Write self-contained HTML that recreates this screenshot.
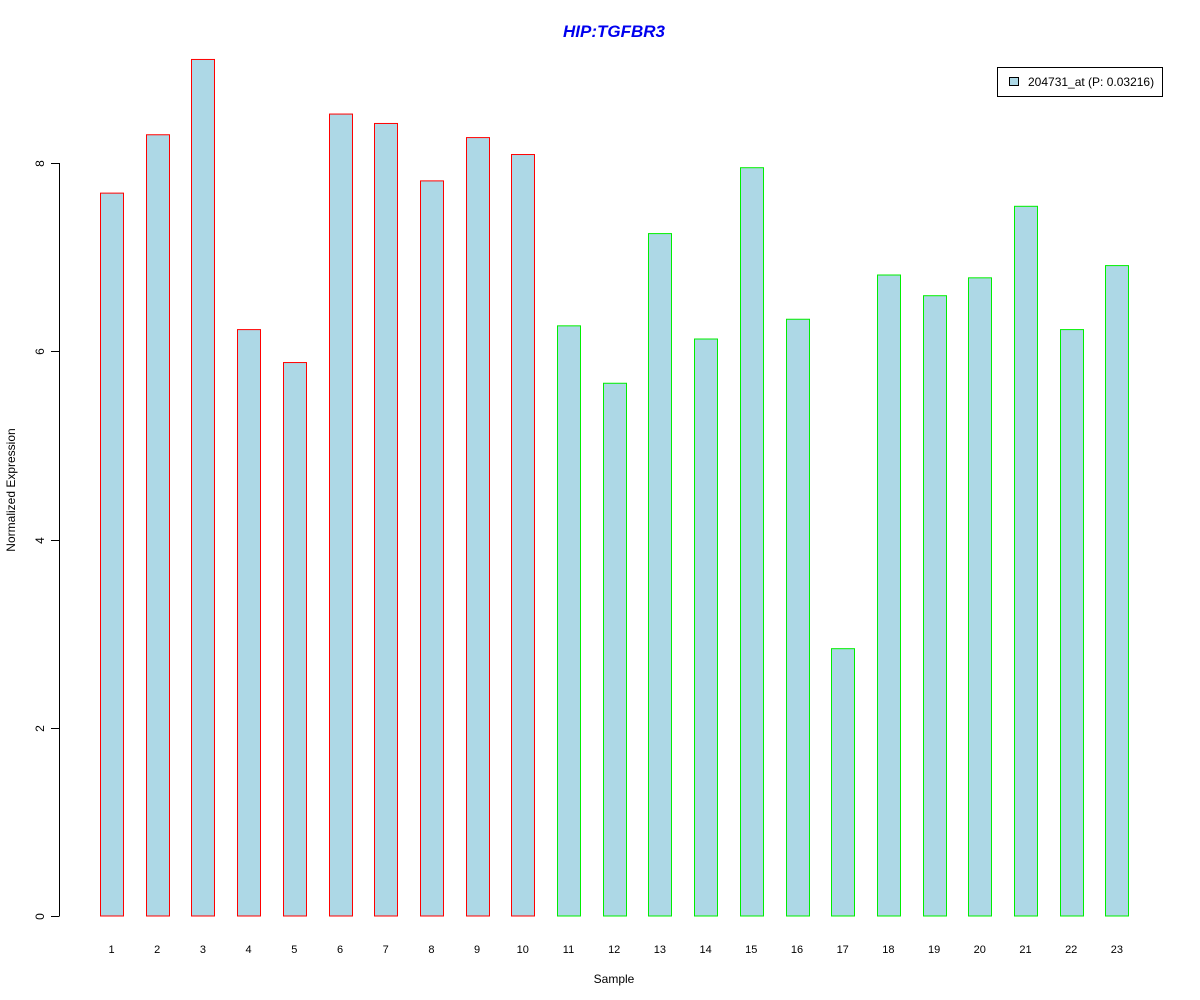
<!DOCTYPE html>
<html><head><meta charset="utf-8"><style>
html,body{margin:0;padding:0;background:#fff;}
svg{display:block;font-family:"Liberation Sans",Arial,sans-serif;}
</style></head><body>
<svg id="chart" width="1200" height="1000" viewBox="0 0 1200 1000">
<text x="614" y="37" text-anchor="middle" font-size="17" font-weight="bold" font-style="italic" fill="#0000ee">HIP:TGFBR3</text>
<text x="614" y="983" text-anchor="middle" font-size="12">Sample</text>
<text transform="translate(15,490) rotate(-90)" text-anchor="middle" font-size="12">Normalized Expression</text>
<g id="yaxis"></g>
<g id="bars"></g>
<g id="xlabels"></g>
<g>
<rect x="997.5" y="67.5" width="165" height="29" fill="#fff" stroke="#000"/>
<rect x="1009.5" y="77.5" width="9" height="8" fill="#add8e6" stroke="#000"/>
<text x="1028" y="86" font-size="12">204731_at (P: 0.03216)</text>
</g>
</svg>
<script>
const samples = ["1","2","3","4","5","6","7","8","9","10","11","12","13","14","15","16","17","18","19","20","21","22","23"];
const values = [7.68,8.30,9.10,6.23,5.88,8.52,8.42,7.81,8.27,8.09,6.27,5.66,7.25,6.13,7.95,6.34,2.84,6.81,6.59,6.78,7.54,6.23,6.91];
const groups = ["a","a","a","a","a","a","a","a","a","a","b","b","b","b","b","b","b","b","b","b","b","b","b"];
const yTicks = [0,2,4,6,8];
const NS="http://www.w3.org/2000/svg";
const y0=916, pxPerUnit=94.125;
const ys=v=>y0-v*pxPerUnit;
const xc=i=>111.5+i*45.7;
const bw=23;
function mk(t,a){const e=document.createElementNS(NS,t);for(const k in a)e.setAttribute(k,a[k]);return e;}
const ya=document.getElementById('yaxis');
const ax=mk('line',{x1:59.5,x2:59.5,y1:ys(0),y2:ys(yTicks[yTicks.length-1]),stroke:'#000'});


ya.appendChild(ax);
yTicks.forEach(t=>{
  const y=Math.round(ys(t))+0.5;
  const l=mk('line',{x1:51,x2:59.5,y1:y,y2:y,stroke:'#000'});
  
  
  ya.appendChild(l);
  const tx=mk('text',{transform:`translate(44,${y}) rotate(-90)`,'text-anchor':'middle','font-size':12});
  tx.textContent=t;
  
  
  ya.appendChild(tx);
});
const bg=document.getElementById('bars'), xl=document.getElementById('xlabels');
values.forEach((v,i)=>{
  const r=mk('rect',{x:Math.round(xc(i)-bw/2)+0.5,y:ys(v),width:bw,height:ys(0)-ys(v),fill:'#add8e6',stroke:groups[i]==='a'?'#ff0000':'#00ee00'});
  
  
  bg.appendChild(r);
  const t=mk('text',{x:xc(i),y:953,'text-anchor':'middle','font-size':11});
  t.textContent=samples[i];
  
  
  xl.appendChild(t);
});
</script>
</body></html>
